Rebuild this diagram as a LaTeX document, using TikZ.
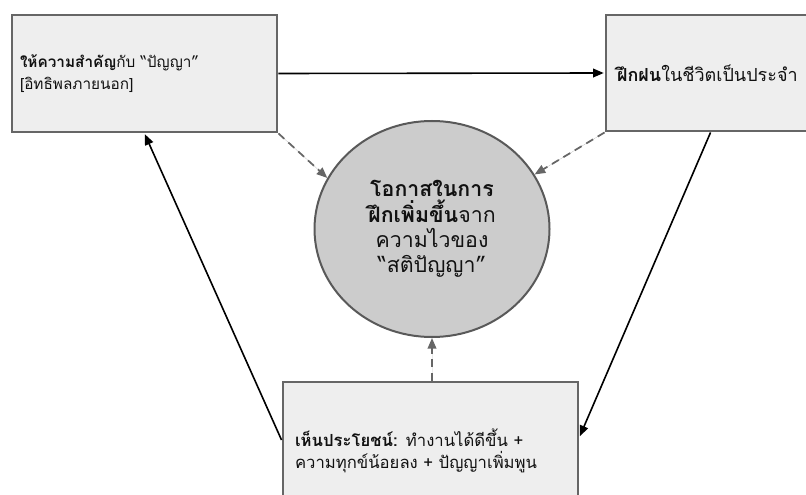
\documentclass[tikz,border=0pt]{standalone}
\usepackage{fontspec}
\setmainfont{Loma}[Script=Thai]
\usepackage{tikz}
\usetikzlibrary{arrows.meta,positioning,calc,shapes.geometric}
\definecolor{boxfill}{HTML}{EEEEEE}
\definecolor{boxline}{HTML}{666666}
\definecolor{hubfill}{HTML}{CCCCCC}
\definecolor{hubline}{HTML}{595959}
\definecolor{ink}{HTML}{111111}
\tikzset{
    every picture/.style={line join=miter},
    procbox/.style={draw=boxline,fill=boxfill,line width=2.2pt,
      inner ysep=0pt,align=left,text=ink,anchor=center},
    hubnode/.style={draw=hubline,fill=hubfill,ellipse,line width=1.5pt,
      minimum width=176.25pt,minimum height=162pt,inner sep=0pt,
      align=center,text=ink,font=\fontsize{16}{19}\selectfont},
    flowarrow/.style={-{Triangle[length=8pt,width=6.5pt]},draw=black,
      line width=1.2pt,shorten >=0.6pt},
    linkarrow/.style={-{Triangle[length=8pt,width=6.5pt]},draw=boxline,
      fill=boxline,line width=1.3pt,dash pattern=on 6pt off 4pt}
}

\begin{document}
\begin{tikzpicture}[x=0.75pt,y=-0.75pt,font=\fontsize{11.5}{17}\selectfont]
  \clip (0,0) rectangle (806,495);
  \node[procbox,minimum width=198.75pt,minimum height=87.75pt,inner xsep=6pt,
    text width=186.75pt] (value) at (144.5,73.5)
    {\textbf{ให้ความสำคัญ}กับ “ปัญญา”\\{}[อิทธิพลภายนอก]};
  \node[procbox,minimum width=172.5pt,minimum height=87pt,inner xsep=8.25pt,
    text width=156pt,font=\fontsize{13.5}{17}\selectfont] (practice) at (721,73)
    {\textbf{ฝึกฝน}ในชีวิตเป็นประจำ};
  \node[procbox,minimum width=221.25pt,minimum height=103.5pt,inner xsep=9pt,
    text width=203.25pt,font=\fontsize{12.5}{17}\selectfont] (benefit) at (430.5,451)
    {\textbf{เห็นประโยชน์:} ทำงานได้ดีขึ้น +\\ความทุกข์น้อยลง + ปัญญาเพิ่มพูน};
  \node[hubnode] (chance) at (432,229)
    {\textbf{โอกาสในการ}\\\textbf{ฝึกเพิ่มขึ้น}จาก\\ความไวของ\\“สติปัญญา”};
  % cycle
  \draw[flowarrow] (value.east) -- (practice.west);
  \draw[flowarrow] ([xshift=79.5pt]practice.south west) -- ([yshift=10.5pt]benefit.east);
  \draw[flowarrow] ([yshift=8.25pt]benefit.west) -- (value.south);
  % feeds into the hub
  \draw[linkarrow] (value.south east) -- (chance.154);
  \draw[linkarrow] (practice.south west) -- (chance.28);
  \draw[linkarrow] (chance.south |- benefit.north) -- (chance.south);
\end{tikzpicture}
\end{document}
